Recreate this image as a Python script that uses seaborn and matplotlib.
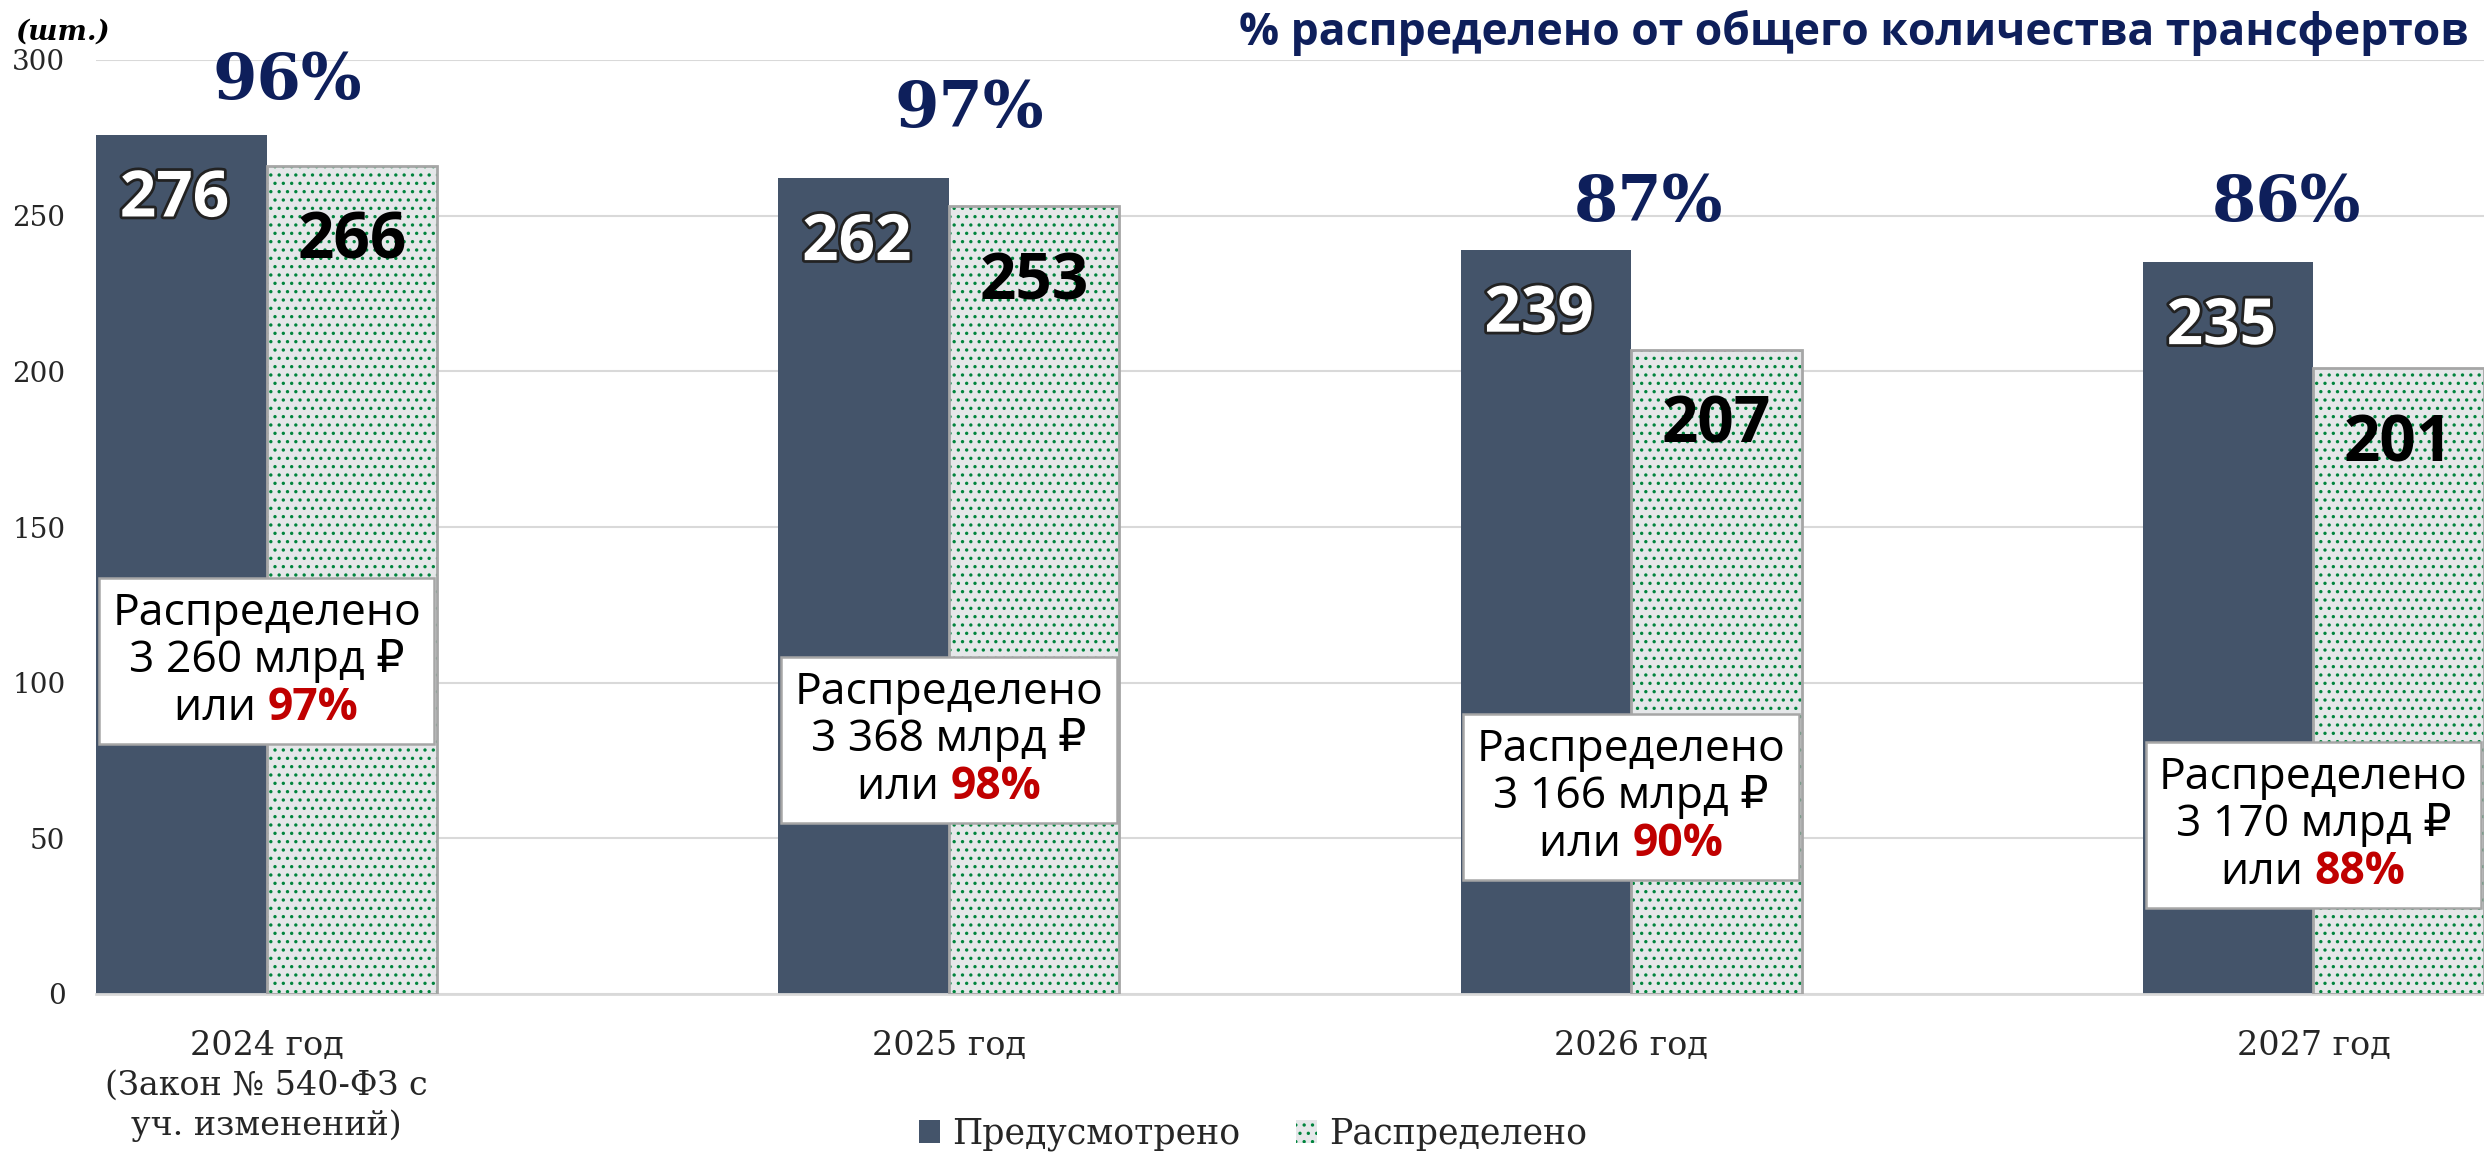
import numpy as np
import pandas as pd
import matplotlib
matplotlib.use("Agg")
import matplotlib.pyplot as plt
import matplotlib.patheffects as pe
from matplotlib.patches import Patch
from matplotlib.offsetbox import TextArea, VPacker, HPacker, AnnotationBbox
import seaborn as sns

# data
years = ["2024 год\n(Закон № 540-ФЗ с\nуч. изменений)", "2025 год", "2026 год", "2027 год"]
series = ["Предусмотрено", "Распределено"]
planned = [276, 262, 239, 235]
distributed = [266, 253, 207, 201]
share_count = ["96%", "97%", "87%", "86%"]
box_amount = ["3 260 млрд ₽", "3 368 млрд ₽", "3 166 млрд ₽", "3 170 млрд ₽"]
box_share = ["97%", "98%", "90%", "88%"]

# layout of hand-placed labels
pct_y = [293, 284, 254, 254]
pct_dx = [0.03, 0.03, 0.025, -0.04]
box_y = [107, 81.6, 63.3, 54.3]

DARK = "#44546A"
LIGHT = "#E5E7E9"
DOTS = "#00843D"
NAVY = "#0E1F5B"
RED = "#C00000"
SERIF = ["DejaVu Serif"]
SANS = ["Open Sans", "DejaVu Sans"]

sns.set_style("white")
plt.rcParams["font.family"] = SERIF
plt.rcParams["hatch.linewidth"] = 1.2

df = pd.DataFrame({
    "year": years * 2,
    "series": [series[0]] * 4 + [series[1]] * 4,
    "value": planned + distributed,
})

fig = plt.figure(figsize=(24.84, 11.6), dpi=100)
ax = fig.add_axes([96 / 2484, 1 - 994 / 1160, 1 - 96 / 2484, (994 - 60) / 1160])

sns.barplot(data=df, x="year", y="value", hue="series", order=years, hue_order=series,
            palette=[DARK, LIGHT], width=0.5, saturation=1, legend=False, ax=ax,
            errorbar=None)

for bar in ax.containers[0]:
    bar.set_linewidth(0)
for bar in ax.containers[1]:
    bar.set_edgecolor(DOTS)
    bar.set_linewidth(0)
    bar.set_hatch("..")
    ax.bar(bar.get_x(), bar.get_height(), width=bar.get_width(), align="edge",
           fill=False, edgecolor="#A6A6A6", linewidth=2, zorder=3)

ax.set_xlim(-0.25, 3.25)
ax.set_ylim(0, 300)
ax.set_yticks(np.arange(0, 301, 50))
ax.yaxis.grid(True, color="#D9D9D9", linewidth=1.5)
ax.set_axisbelow(True)
for s in ["top", "right", "left"]:
    ax.spines[s].set_visible(False)
ax.spines["bottom"].set_color("#D9D9D9")
ax.spines["bottom"].set_linewidth(2)
ax.set_xlabel("")
ax.set_ylabel("")
ax.tick_params(axis="y", length=0, pad=22, labelsize=20)
ax.tick_params(axis="x", length=0, pad=26, labelsize=24)
for t in ax.get_xticklabels():
    t.set_linespacing(1.3)

# value labels
for bar, v in zip(ax.containers[0], planned):
    ax.annotate(str(v), (bar.get_x() + bar.get_width() / 2 - 0.01, v), xytext=(0, -47),
                textcoords="offset points", ha="center", va="center", fontsize=46,
                fontweight="bold", family=SANS, color="white", zorder=6,
                path_effects=[pe.withStroke(linewidth=4, foreground="#222222")])
for bar, v in zip(ax.containers[1], distributed):
    ax.annotate(str(v), (bar.get_x() + bar.get_width() / 2, v), xytext=(0, -55),
                textcoords="offset points", ha="center", va="center", fontsize=46,
                fontweight="bold", family=SANS, color="black", zorder=6)

# share of transfer count
for i, txt in enumerate(share_count):
    ax.text(i + pct_dx[i], pct_y[i], txt, ha="center", va="center", fontsize=46,
            fontweight="bold", family=SERIF, color=NAVY, clip_on=False, zorder=6)

# distributed amount boxes
reg = dict(fontsize=32, family=SANS, color="black")
bold_red = dict(fontsize=32, family=SANS, color=RED, fontweight="bold")
for i in range(len(years)):
    row3 = HPacker(children=[TextArea("или ", textprops=reg),
                             TextArea(box_share[i], textprops=bold_red)],
                   align="baseline", pad=0, sep=0)
    pack = VPacker(children=[TextArea("Распределено", textprops=reg),
                             TextArea(box_amount[i], textprops=reg), row3],
                   align="center", pad=0, sep=2)
    ab = AnnotationBbox(pack, (i, box_y[i]), frameon=True, box_alignment=(0.5, 0.5),
                        pad=0.6, fontsize=32,
                        bboxprops=dict(boxstyle="square", fc="white", ec="#A6A6A6", lw=1.8))
    ab.set_zorder(7)
    ax.add_artist(ab)

# titles
fig.text(2469 / 2484, 1 - 33 / 1160, "% распределено от общего количества трансфертов",
         ha="right", va="center", fontsize=32, fontweight="bold", family=SANS, color=NAVY)
fig.text(15 / 2484, 1 - 32 / 1160, "(шт.)", ha="left", va="center", fontsize=20,
         fontweight="bold", fontstyle="italic", family=SERIF, color="black")

handles = [Patch(facecolor=DARK, edgecolor=DARK, linewidth=0),
           Patch(facecolor=LIGHT, edgecolor=DOTS, hatch="..", linewidth=0)]
fig.legend(handles, series, loc="center", bbox_to_anchor=(1253 / 2484, 1 - 1134 / 1160),
           ncol=2, frameon=False, fontsize=25, handlelength=0.6, handleheight=0.6,
           handletextpad=0.35, columnspacing=1.6)

fig.savefig("out.png", dpi=100)
